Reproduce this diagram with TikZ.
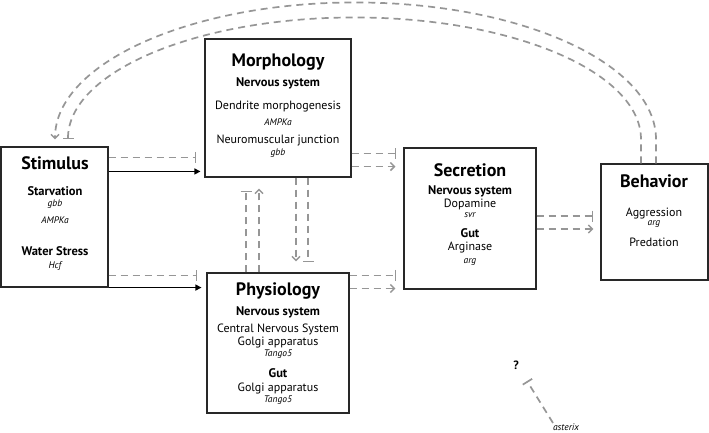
\documentclass[tikz,border=0pt]{standalone}
\usepackage{fontspec}
\setmainfont{PT Sans}
\usetikzlibrary{arrows.meta,calc}
\definecolor{lgray}{RGB}{150,150,150}
\definecolor{boxc}{RGB}{40,40,40}
\begin{document}
\begin{tikzpicture}[x=1pt,y=-1pt,
  box/.style={draw=boxc,line width=1.1pt,inner sep=0pt},
  ttl/.style={font=\fontsize{18}{20}\selectfont\bfseries,inner sep=0pt},
  sub/.style={font=\fontsize{12.5}{14}\selectfont\bfseries,inner sep=0pt},
  itm/.style={font=\fontsize{12}{13}\selectfont,inner sep=0pt},
  gen/.style={font=\fontsize{9.5}{11}\selectfont\itshape,inner sep=0pt},
  dsh/.style={draw=lgray,line width=1.7pt,dash pattern=on 7pt off 5pt},
  inh/.style={dsh,-{Bar[width=11pt,line width=1.7pt]}},
  act/.style={dsh,-{Straight Barb[length=4pt,width=8pt,line width=1.5pt]}},
  sol/.style={draw=black,line width=1.3pt,-{Triangle[length=6pt,width=6pt]}}]
\useasboundingbox (0,0) rectangle (709,432);
% boxes
\node[box,minimum width=107pt,minimum height=140pt] (stim) at (54.5,217) {};
\node[box,minimum width=146pt,minimum height=138pt] (morph) at (278,108) {};
\node[box,minimum width=142pt,minimum height=140pt] (phys) at (278,343) {};
\node[box,minimum width=132pt,minimum height=141pt] (secr) at (470,218.5) {};
\node[box,minimum width=107pt,minimum height=116pt] (beh) at (654.5,222) {};
% stimulus texts
\node[ttl] (t1) at (55,163) {Stimulus};
\node[sub] (t2) at (55,191) {Starvation};
\node[gen] (t3) at (55,204) {gbb};
\node[gen] (t4) at (55,220) {AMPKa};
\node[sub] (t5) at (55,251) {Water Stress};
\node[gen] (t6) at (55,266) {Hcf};
% morphology texts
\node[ttl] (m1) at (278,62) {Morphology};
\node[sub] (m2) at (278,83) {Nervous system};
\node[itm] (m3) at (278,107) {Dendrite morphogenesis};
\node[gen] (m4) at (278,122) {AMPKa};
\node[itm] (m5) at (278,140) {Neuromuscular junction};
\node[gen] (m6) at (278,153) {gbb};
% physiology texts
\node[ttl] (p1) at (278,291) {Physiology};
\node[sub] (p2) at (278,312) {Nervous system};
\node[itm] (p3) at (278,329) {Central Nervous System};
\node[itm] (p4) at (278,342) {Golgi apparatus};
\node[gen] (p5) at (278,354) {Tango5};
\node[sub] (p6) at (278,373) {Gut};
\node[itm] (p7) at (278,388) {Golgi apparatus};
\node[gen] (p8) at (278,400) {Tango5};
% secretion texts
\node[ttl] (s1) at (470,170) {Secretion};
\node[sub] (s2) at (470,191) {Nervous system};
\node[itm] (s3) at (470,204) {Dopamine};
\node[gen] (s4) at (470,215) {svr};
\node[sub] (s5) at (470,233) {Gut};
\node[itm] (s6) at (470,247) {Arginase};
\node[gen] (s7) at (470,262) {arg};
% behavior texts
\node[ttl] (b1) at (654,181) {Behavior};
\node[itm] (b2) at (654,213) {Aggression};
\node[gen] (b3) at (654,224) {arg};
\node[itm] (b4) at (654,242) {Predation};
% question / asterix
\node[font=\fontsize{12}{14}\selectfont\bfseries,inner sep=0pt] (q) at (516,365) {?};
\node[gen] (ast) at (566,427) {asterix};
% stimulus -> morphology
\draw[inh] ($(stim.north east)+(0,11)$) -- ($(stim.north east -| morph.west)+(-8,11)$);
\draw[sol] ($(stim.north east)+(0,25)$) -- ($(stim.north east -| morph.west)+(-4,25)$);
% stimulus -> physiology
\draw[inh] ($(stim.south east)+(0,-12)$) -- ($(stim.south east -| phys.west)+(-9,-12)$);
\draw[sol] (stim.south east) -- ($(stim.south east -| phys.west)+(-5,0)$);
% morphology -> secretion
\draw[inh] ($(morph.south east)+(0,-24)$) -- ($(morph.south east -| secr.west)+(-7,-24)$);
\draw[act] ($(morph.south east)+(0,-11)$) -- ($(morph.south east -| secr.west)+(-8,-11)$);
% physiology -> secretion
\draw[inh] ($(phys.north east)+(0,3)$) -- ($(phys.north east -| secr.west)+(-7,3)$);
\draw[act] ($(phys.north east)+(0,16)$) -- ($(phys.north east -| secr.west)+(-8,16)$);
% secretion -> behavior
\draw[inh] ($(secr.east)+(0,-2.5)$) -- ($(secr.east -| beh.west)+(-7,-2.5)$);
\draw[act] ($(secr.east)+(0,10.5)$) -- ($(secr.east -| beh.west)+(-7,10.5)$);
% physiology -> morphology
\draw[inh] ($(phys.north)+(-32,0)$) -- ($(phys.north |- morph.south)+(-32,13)$);
\draw[act] ($(phys.north)+(-19,0)$) -- ($(phys.north |- morph.south)+(-19,11)$);
% morphology -> physiology
\draw[act] ($(morph.south)+(18,0)$) -- ($(morph.south |- phys.north)+(18,-11)$);
\draw[inh] ($(morph.south)+(30,0)$) -- ($(morph.south |- phys.north)+(30,-10)$);
% behavior -> stimulus arcs
\draw[act] ($(beh.north)+(1.5,0)$) -- ++(0,-24) arc[start angle=0,end angle=-180,x radius=300.5,y radius=137];
\draw[inh] ($(beh.north)+(-13.5,0)$) -- ++(0,-24) arc[start angle=0,end angle=-180,x radius=286.5,y radius=122];
% asterix -> ?
\draw[inh] ($(ast.center)+(-13,-4)$) -- ($(q.center)+(11,16)$);
\end{tikzpicture}
\end{document}
